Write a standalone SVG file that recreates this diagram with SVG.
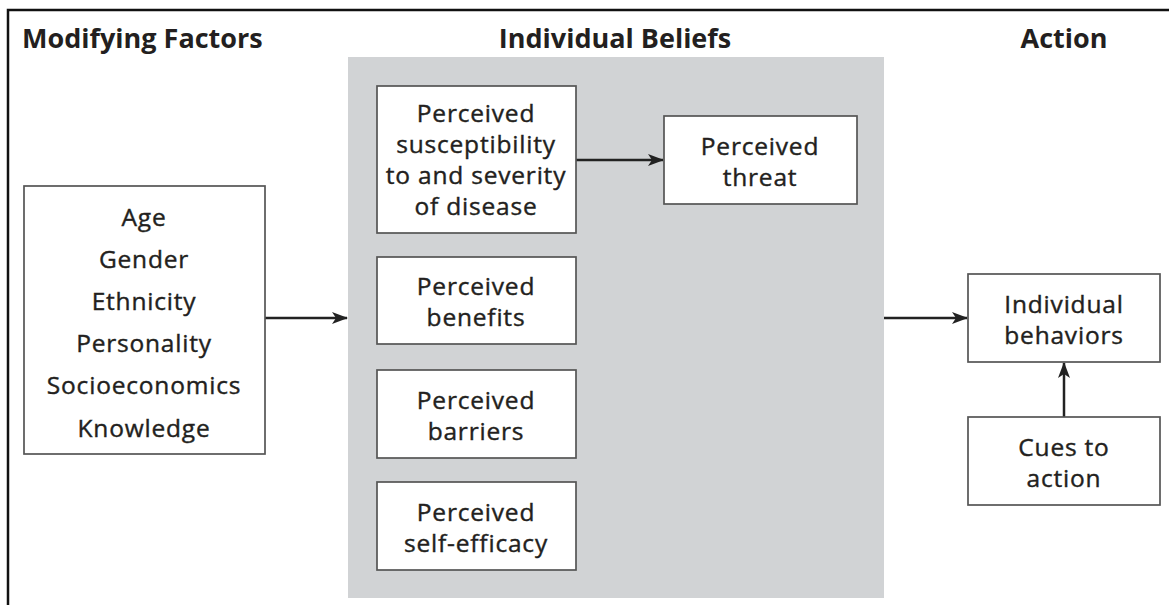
<svg xmlns="http://www.w3.org/2000/svg" width="1169" height="605" viewBox="0 0 1169 605">
<style>
.box{fill:#fff;stroke:#555;stroke-width:1.7}
.t{font-family:"Open Sans","Noto Sans",sans-serif;font-size:24.5px;letter-spacing:0.8px;fill:#231f20;stroke:#231f20;stroke-width:0.4;text-anchor:middle;dominant-baseline:central}
.h{font-family:"Open Sans","Noto Sans",sans-serif;font-size:27px;font-weight:bold;fill:#231f20;dominant-baseline:central}
.c{stroke:#222;stroke-width:2.5;fill:none;marker-end:url(#ah)}
</style>
<defs>
<marker id="ah" markerWidth="16" markerHeight="12" refX="15" refY="6" orient="auto" markerUnits="userSpaceOnUse">
<path d="M0,0 L16,6 L0,12 L4,6 Z" fill="#222"/>
</marker>
</defs>
<rect x="0" y="0" width="1169" height="605" fill="#fff"/>
<path d="M8,605 V10 H1169" fill="none" stroke="#111" stroke-width="2.5"/>
<rect x="348" y="57" width="536" height="541" fill="#d1d3d5"/>
<text class="h" x="22" y="37">Modifying Factors</text>
<text class="h" x="615" y="37" text-anchor="middle">Individual Beliefs</text>
<text class="h" x="1064" y="37" text-anchor="middle">Action</text>
<g id="connectors">
<line class="c" x1="265" y1="318" x2="347" y2="318"/>
<line class="c" x1="576" y1="160" x2="663" y2="160"/>
<line class="c" x1="884" y1="318" x2="967" y2="318"/>
<line class="c" x1="1064" y1="417" x2="1064" y2="363"/>
</g>
<g id="factors">
<rect class="box" x="24" y="186" width="241" height="268"/>
<text class="t" x="144" y="216">Age</text>
<text class="t" x="144" y="258">Gender</text>
<text class="t" x="144" y="300">Ethnicity</text>
<text class="t" x="144" y="342">Personality</text>
<text class="t" x="144" y="384">Socioeconomics</text>
<text class="t" x="144" y="427">Knowledge</text>
</g>
<g id="susceptibility">
<rect class="box" x="377" y="86" width="199" height="147"/>
<text class="t" x="476" y="112">Perceived</text>
<text class="t" x="476" y="143">susceptibility</text>
<text class="t" x="476" y="174">to and severity</text>
<text class="t" x="476" y="205">of disease</text>
</g>
<g id="threat">
<rect class="box" x="664" y="116" width="193" height="88"/>
<text class="t" x="760" y="145">Perceived</text>
<text class="t" x="760" y="176">threat</text>
</g>
<g id="benefits">
<rect class="box" x="377" y="257" width="199" height="87"/>
<text class="t" x="476" y="285">Perceived</text>
<text class="t" x="476" y="316">benefits</text>
</g>
<g id="barriers">
<rect class="box" x="377" y="370" width="199" height="88"/>
<text class="t" x="476" y="399">Perceived</text>
<text class="t" x="476" y="430">barriers</text>
</g>
<g id="efficacy">
<rect class="box" x="377" y="482" width="199" height="88"/>
<text class="t" x="476" y="511">Perceived</text>
<text class="t" x="476" y="542">self-efficacy</text>
</g>
<g id="behaviors">
<rect class="box" x="968" y="274" width="192" height="88"/>
<text class="t" x="1064" y="303">Individual</text>
<text class="t" x="1064" y="334">behaviors</text>
</g>
<g id="cues">
<rect class="box" x="968" y="417" width="192" height="88"/>
<text class="t" x="1064" y="446">Cues to</text>
<text class="t" x="1064" y="477">action</text>
</g>
</svg>
